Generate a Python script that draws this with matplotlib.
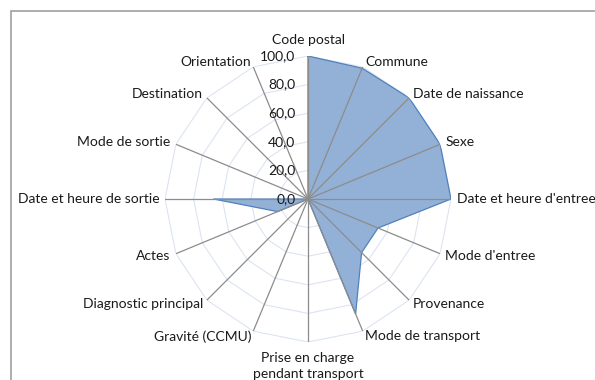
import numpy as np
import matplotlib
matplotlib.use('Agg')
import matplotlib.pyplot as plt
from matplotlib.patches import Rectangle
from matplotlib.transforms import ScaledTranslation

# data
categories = ['Code postal', 'Commune', 'Date de naissance', 'Sexe',
              "Date et heure d'entree", "Mode d'entree", 'Provenance',
              'Mode de transport', 'Prise en charge\npendant transport',
              'Gravité (CCMU)', 'Diagnostic principal', 'Actes',
              'Date et heure de sortie', 'Mode de sortie', 'Destination',
              'Orientation']
values = [100, 99, 100, 100, 100, 53, 53, 87, 0, 0, 0, 23, 66, 0, 0, 0]
ticks = [0, 20, 40, 60, 80, 100]

FILL_COLOR = '#93B1D7'
EDGE_COLOR = '#4F81BD'
SPOKE_COLOR = '#8C8C8C'
GRID_COLOR = '#DCE4F1'
TEXT_COLOR = '#1A1A1A'
FONT_SIZE = 10

plt.rcParams['font.family'] = ['Lato', 'DejaVu Sans']

n = len(categories)
angles = np.arange(n) * 2 * np.pi / n
closed = np.concatenate([angles, angles[:1]])

fig = plt.figure(figsize=(5.95, 3.8), dpi=100)
ax = fig.add_axes([0.2773, 0.1, 0.4807, 0.7526], projection='polar')
ax.set_theta_zero_location('N')
ax.set_theta_direction(-1)
ax.set_ylim(0, 100)
ax.axis('off')

# polygon gridlines
for t in ticks[1:]:
    ax.plot(closed, [t] * (n + 1), color=GRID_COLOR, lw=0.8, zorder=1)

# series
vals = values + values[:1]
ax.fill(closed, vals, color=FILL_COLOR, zorder=2, lw=0)
ax.plot(closed, vals, color=EDGE_COLOR, lw=0.9, zorder=3)

# spokes
for a in angles:
    ax.plot([a, a], [0, 100], color=SPOKE_COLOR, lw=0.9, zorder=4)

# radial tick labels, shifted left of the vertical axis
shift = ax.transData + ScaledTranslation(-9 / 72, 0, fig.dpi_scale_trans)
for t in ticks:
    ax.text(0, t, f'{t:.1f}'.replace('.', ','), transform=shift,
            ha='right', va='center', fontsize=FONT_SIZE, color=TEXT_COLOR,
            zorder=5)

# category labels
for a, lab in zip(angles, categories):
    s = np.sin(a)
    if abs(s) < 1e-6:
        ha = 'center'
        va = 'bottom' if np.cos(a) > 0 else 'top'
        r = 107
    else:
        ha = 'left' if s > 0 else 'right'
        va = 'center'
        r = 104
    ax.text(a, r, lab, ha=ha, va=va, fontsize=FONT_SIZE, color=TEXT_COLOR,
            linespacing=1.4, clip_on=False)

# chart frame
fig.patches.append(Rectangle((11 / 595, -0.1), 1.2, 1 - 11 / 380 + 0.1,
                             transform=fig.transFigure, fill=False,
                             edgecolor='#A0A0A0', lw=1.2))

fig.savefig('out.png', dpi=100)
